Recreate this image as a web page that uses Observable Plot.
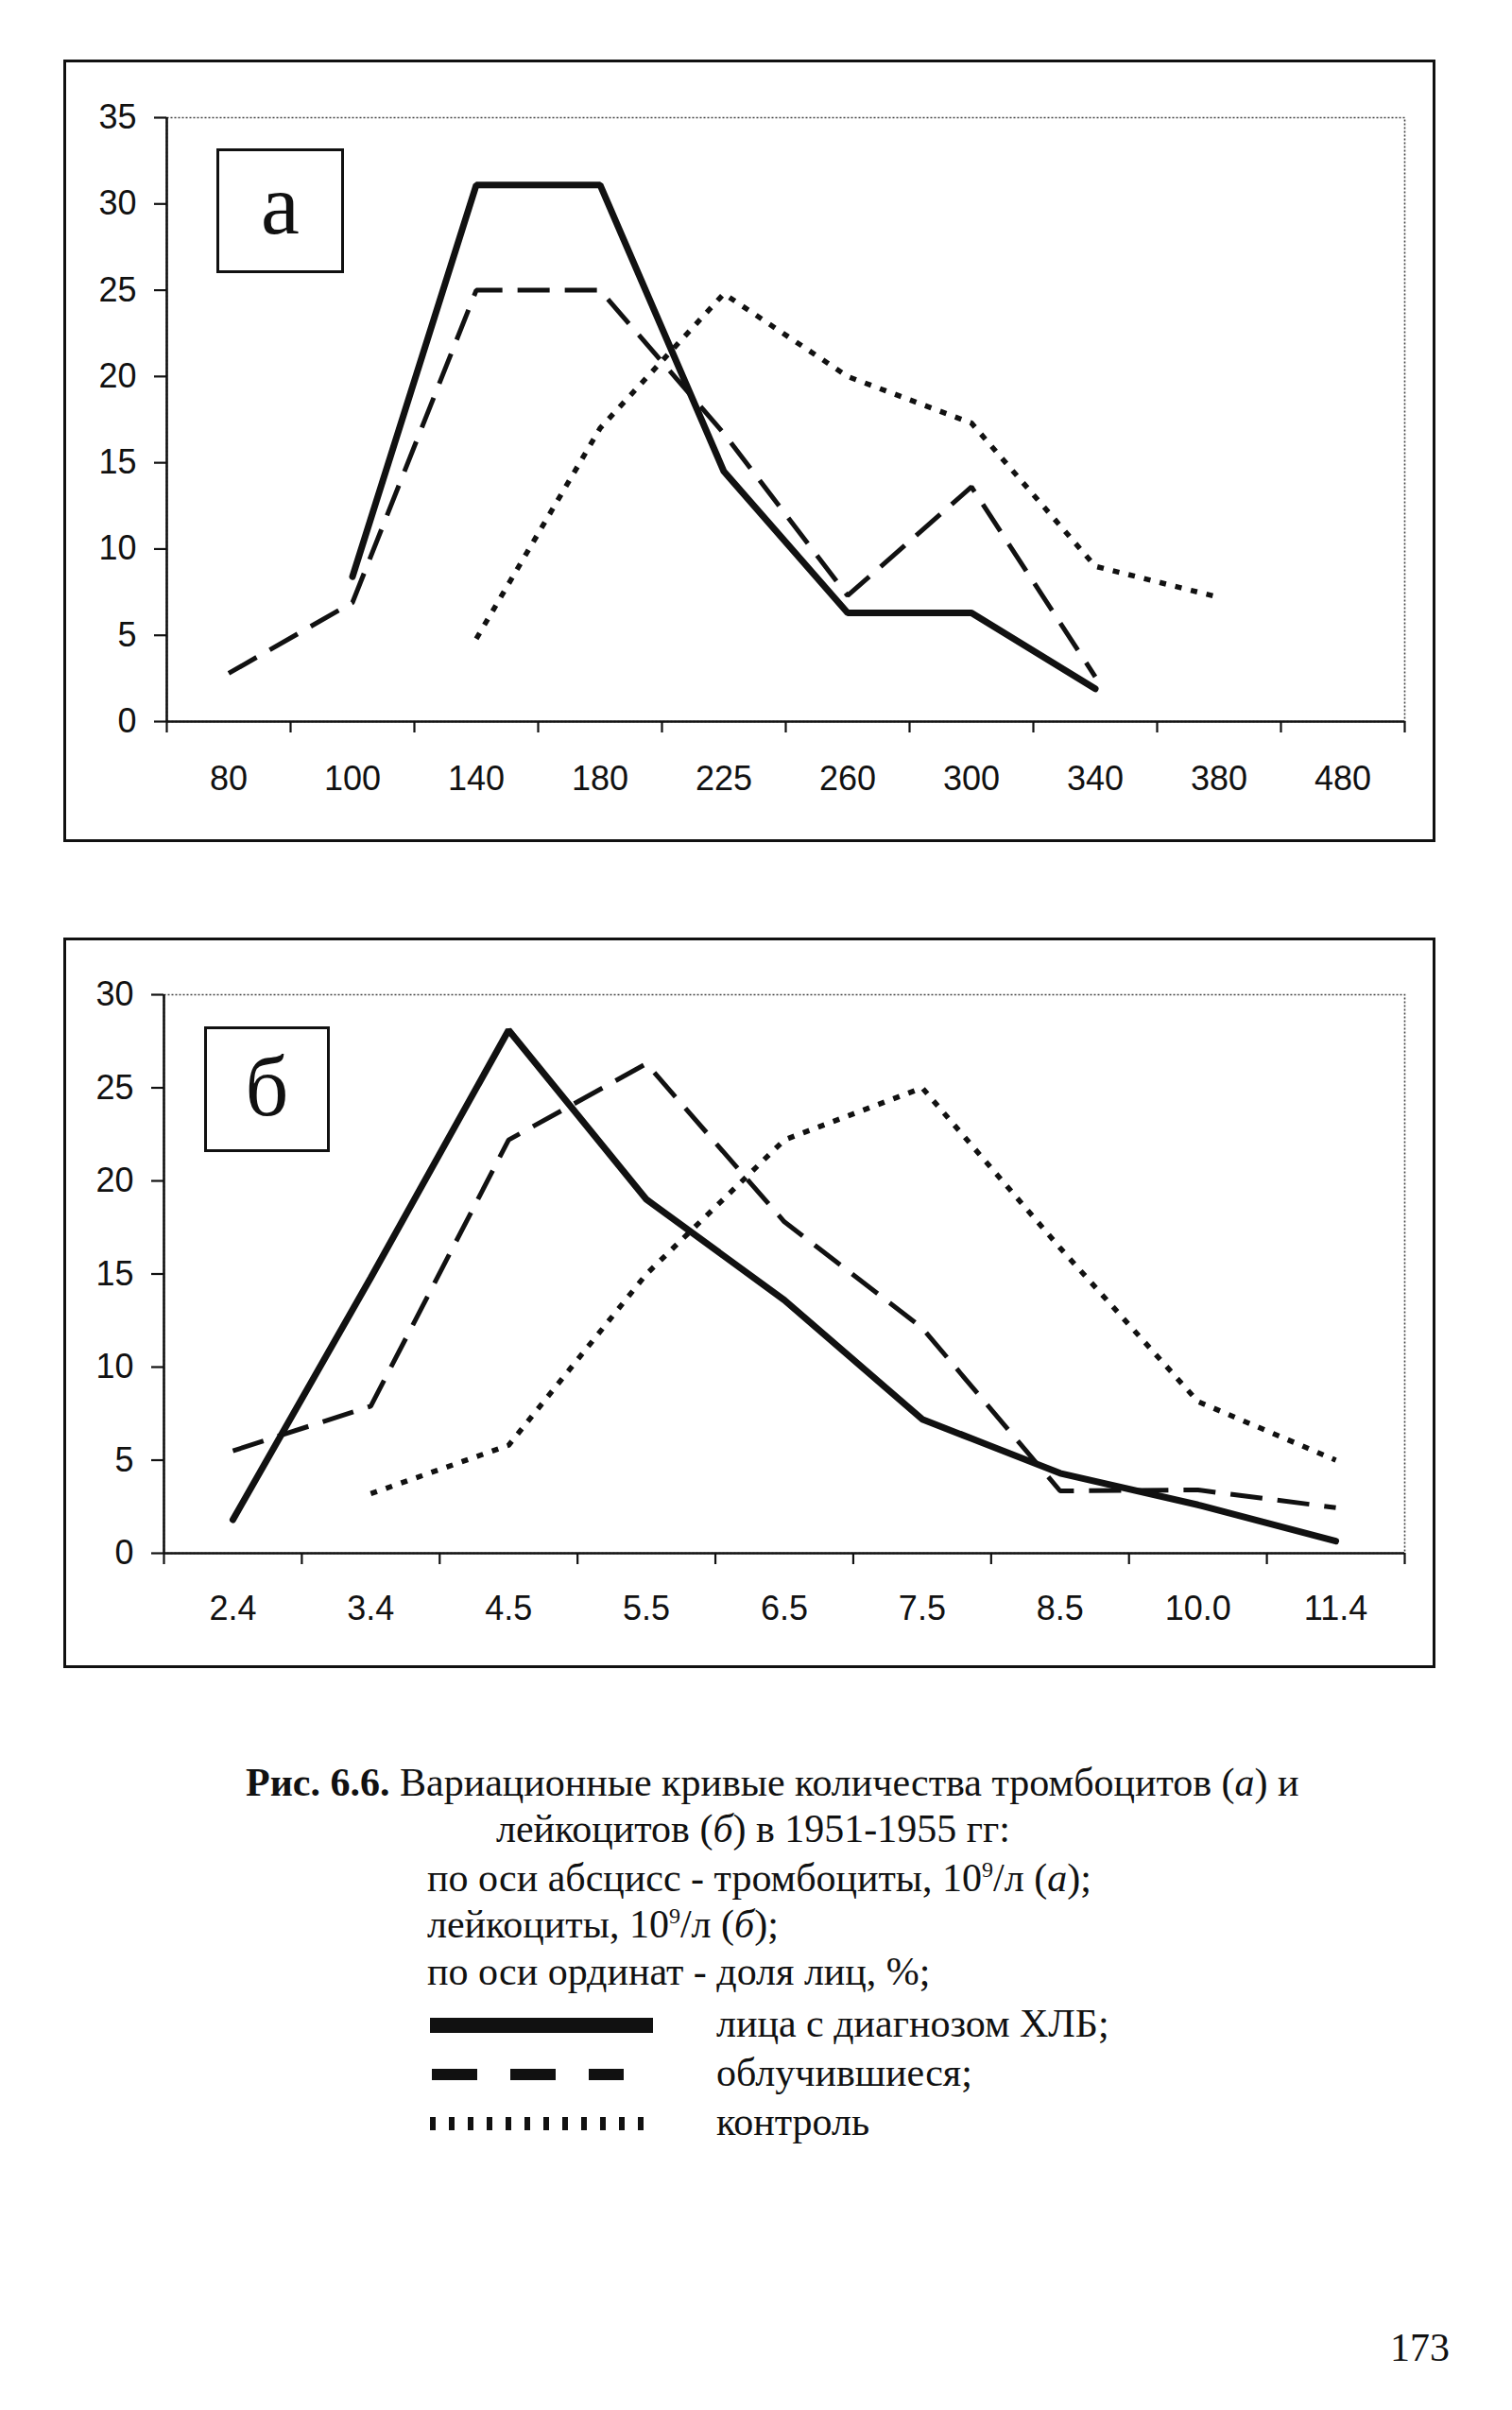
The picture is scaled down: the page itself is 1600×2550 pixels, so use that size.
<!DOCTYPE html>
<html><head><meta charset="utf-8">
<script src="https://cdn.jsdelivr.net/npm/d3@7"></script>
<script src="https://cdn.jsdelivr.net/npm/@observablehq/plot@0.6"></script>
<style>
html,body{margin:0;padding:0;background:#fff;}
body{width:1600px;height:2550px;position:relative;overflow:hidden;font-family:"Liberation Serif","Times New Roman",serif;color:#111;}
.abs{position:absolute;}
.frame{position:absolute;border:3px solid #111;box-sizing:border-box;pointer-events:none;z-index:3;}
.lbox{position:absolute;border:3px solid #111;box-sizing:border-box;background:#fff;z-index:4;display:flex;align-items:center;justify-content:center;font-family:"Liberation Serif","Times New Roman",serif;color:#111;}
.cap{position:absolute;font-size:42px;line-height:44px;white-space:nowrap;}
</style></head><body>
<div id="root"></div>
<script>
// ---- data: panel а (тромбоциты) ----
const catsA = ["80","100","140","180","225","260","300","340","380","480"];
const hlbA  = [null, 8.4, 31.1, 31.1, 14.5, 6.3, 6.3, 1.9, null, null];
const irrA  = [2.8, 6.9, 25.0, 25.0, 16.7, 7.3, 13.6, 2.6, null, null];
const ctrlA = [null, null, 4.8, 17.0, 24.8, 20.0, 17.3, 9.0, 7.2, null];
// ---- data: panel б (лейкоциты) ----
const catsB = ["2.4","3.4","4.5","5.5","6.5","7.5","8.5","10.0","11.4"];
const hlbB  = [1.8, 14.8, 28.1, 19.0, 13.6, 7.2, 4.3, 2.6, 0.65];
const irrB  = [5.5, 7.9, 22.2, 26.3, 17.8, 12.1, 3.35, 3.4, 2.45];
const ctrlB = [null, 3.2, 5.8, 15.0, 22.2, 25.0, 16.4, 8.15, 5.0];
const yMaxA = 35, yMaxB = 30;

function rows(vals){
  return vals.map((v,i)=>({i:i+0.5, v})).filter(d=>d.v!=null);
}
function panel(cats, hlb, irr, ctrl, yMax, m){
  const n = cats.length;
  const boundaries = d3.range(n+1);
  const centers = d3.range(n).map(i=>i+0.5);
  return Plot.plot({
    width: m.width, height: m.height,
    marginLeft: m.left, marginRight: m.right, marginTop: m.top, marginBottom: m.bottom,
    style: {fontFamily: "'Liberation Sans', Arial, sans-serif", fontSize: "36px", color: "#111", background: "transparent", overflow: "visible"},
    x: {type: "linear", domain: [0, n]},
    y: {domain: [0, yMax]},
    marks: [
      Plot.frame({stroke: "#444", strokeWidth: 1.6, strokeDasharray: "2,2"}),
      Plot.axisY({ticks: d3.range(0, yMax + 1, 5), tickSize: 13, tickPadding: 19, tickFormat: d => String(d), label: null, fontSize: 36, strokeWidth: 2.2}),
      Plot.axisX({ticks: boundaries, tickSize: 12, tickFormat: () => "", label: null, strokeWidth: 2.2}),
      Plot.axisX({ticks: centers, tickSize: 0, tickPadding: m.xpad, tickFormat: d => cats[Math.round(d - 0.5)], label: null, fontSize: 36}),
      Plot.ruleY([0], {stroke: "#111", strokeWidth: 2.6}),
      Plot.ruleX([0], {stroke: "#111", strokeWidth: 2.6}),
      Plot.line(rows(ctrl), {x: "i", y: "v", stroke: "#111", strokeWidth: 5.5, strokeDasharray: "7,10", strokeLinecap: "butt", strokeLinejoin: "miter"}),
      Plot.line(rows(irr), {x: "i", y: "v", stroke: "#111", strokeWidth: 5, strokeDasharray: "34,16", strokeLinecap: "butt", strokeLinejoin: "miter"}),
      Plot.line(rows(hlb), {x: "i", y: "v", stroke: "#111", strokeWidth: 7, strokeLinecap: "round", strokeLinejoin: "miter"})
    ]
  });
}
const root = document.getElementById("root");
function place(el, left, top){ el.style.position = "absolute"; el.style.left = left + "px"; el.style.top = top + "px"; root.appendChild(el); return el; }

// panel а
const pa = panel(catsA, hlbA, irrA, ctrlA, yMaxA, {width: 1449, height: 825, left: 108, right: 31, top: 60, bottom: 126, xpad: 47});
place(pa, 68, 64);
const fa = document.createElement("div"); fa.className = "frame";
fa.style.width = "1452px"; fa.style.height = "828px"; place(fa, 67, 63);
const ba = document.createElement("div"); ba.className = "lbox"; ba.textContent = "а";
ba.style.width = "135px"; ba.style.height = "132px"; ba.style.fontSize = "92px"; ba.style.paddingBottom = "14px";
place(ba, 229, 157);

// panel б
const pb = panel(catsB, hlbB, irrB, ctrlB, yMaxB, {width: 1449, height: 770, left: 105, right: 31, top: 59, bottom: 120, xpad: 45});
place(pb, 68, 993);
const fb = document.createElement("div"); fb.className = "frame";
fb.style.width = "1452px"; fb.style.height = "773px"; place(fb, 67, 992);
const bb = document.createElement("div"); bb.className = "lbox"; bb.textContent = "б";
bb.style.width = "133px"; bb.style.height = "133px"; bb.style.fontSize = "90px"; bb.style.paddingBottom = "6px";
place(bb, 216, 1086);
</script>

<div class="cap" style="left:260px;top:1864px;"><b>Рис. 6.6.</b> Вариационные кривые количества тромбоцитов (<i>а</i>) и</div>
<div class="cap" style="left:525px;top:1913px;">лейкоцитов (<i>б</i>) в 1951-1955 гг:</div>
<div class="cap" style="left:452px;top:1965px;">по оси абсцисс - тромбоциты, 10<sup style="font-size:24px;line-height:0">9</sup>/л (<i>а</i>);</div>
<div class="cap" style="left:452px;top:2014px;">лейкоциты, 10<sup style="font-size:24px;line-height:0">9</sup>/л (<i>б</i>);</div>
<div class="cap" style="left:452px;top:2064px;">по оси ординат - доля лиц, %;</div>

<svg class="abs" style="left:455px;top:2130px;" width="240" height="130">
  <line x1="0" x2="236" y1="13" y2="13" stroke="#111" stroke-width="16"/>
  <line x1="2" x2="205" y1="65" y2="65" stroke="#111" stroke-width="12" stroke-dasharray="48,35"/>
  <line x1="0" x2="240" y1="117" y2="117" stroke="#111" stroke-width="14" stroke-dasharray="6,14"/>
</svg>
<div class="cap" style="left:758px;top:2119px;">лица с диагнозом ХЛБ;</div>
<div class="cap" style="left:758px;top:2171px;">облучившиеся;</div>
<div class="cap" style="left:758px;top:2223px;">контроль</div>

<div class="cap" style="left:1471px;top:2462px;font-size:42px;line-height:44px;">173</div>
</body></html>
